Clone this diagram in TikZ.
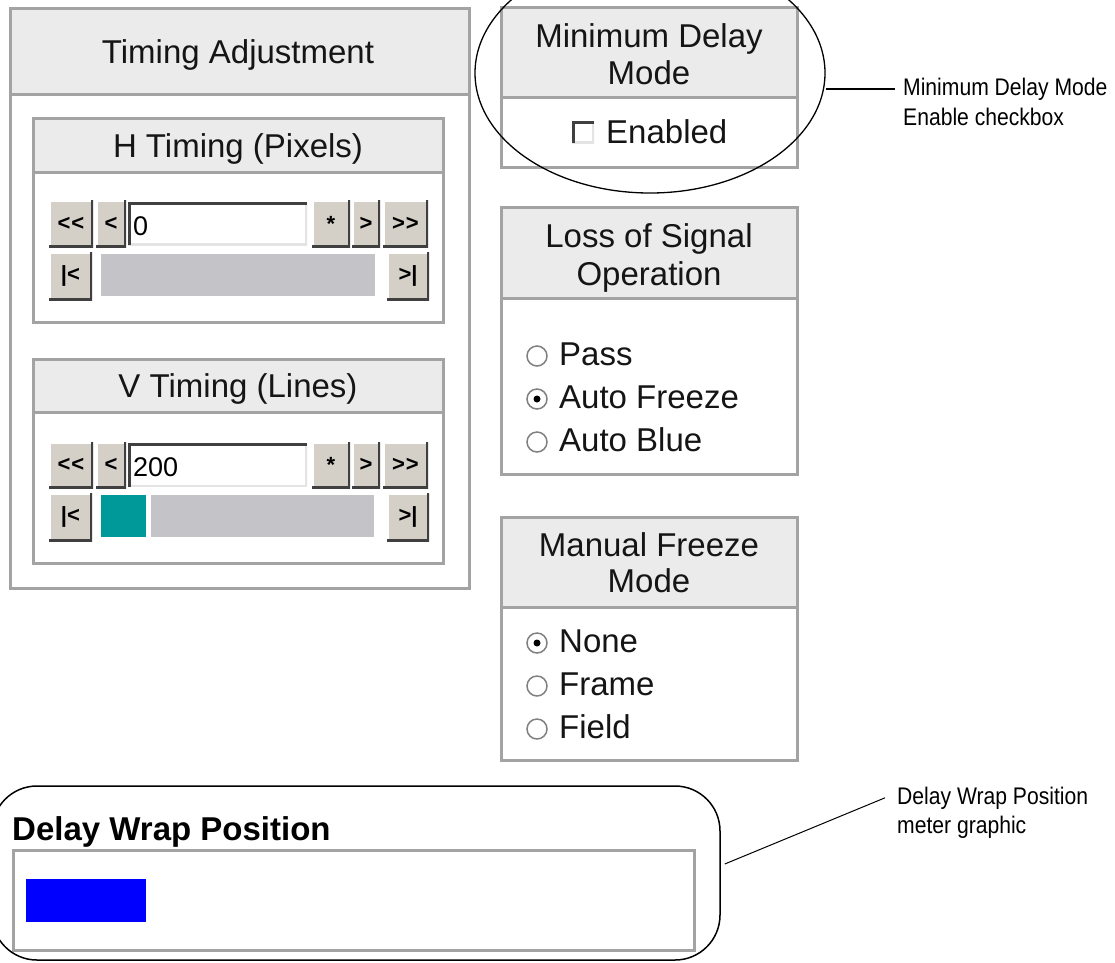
\documentclass[tikz,border=0pt]{standalone}
\usepackage{fontspec}
\setmainfont{Liberation Sans}
\newfontfamily\condfam[FakeStretch=0.88]{Liberation Sans}
\usetikzlibrary{shapes.geometric}
\definecolor{pnlgray}{HTML}{A3A3A3}
\definecolor{hdrfill}{HTML}{EBEBEB}
\definecolor{btnfill}{HTML}{D4D0C8}
\definecolor{btndark}{HTML}{404040}
\definecolor{lightedge}{HTML}{E4E4E4}
\definecolor{barfill}{HTML}{C4C3C8}
\definecolor{tealfill}{HTML}{009999}
\definecolor{meterblue}{HTML}{0000FF}
\definecolor{uitext}{HTML}{151515}
\begin{document}
\begin{tikzpicture}[x=1pt,y=-1pt,
  panel/.style={draw=pnlgray, line width=3pt, fill=white},
  hdrbox/.style={draw=pnlgray, line width=3pt, fill=hdrfill},
  uitxt/.style={font=\fontsize{33}{38}\selectfont, inner sep=0pt, anchor=base, text=uitext},
  uileft/.style={uitxt, anchor=base west},
  valtxt/.style={font=\fontsize{27}{30}\selectfont, inner sep=0pt, anchor=base west, text=black},
  btn/.style={fill=btnfill, inner sep=0pt, font=\bfseries\fontsize{22}{24}\selectfont,
    path picture={
      \draw[white, line width=4pt] (path picture bounding box.south west) -- (path picture bounding box.north west) -- (path picture bounding box.north east);
      \draw[btndark, line width=5pt] (path picture bounding box.north east) -- (path picture bounding box.south east) -- (path picture bounding box.south west);}},
  sunk/.style={fill=white, inner sep=0pt,
    path picture={
      \draw[lightedge, line width=4pt] (path picture bounding box.south west) -- (path picture bounding box.south east) -- (path picture bounding box.north east);
      \draw[btndark, line width=5pt] (path picture bounding box.south west) -- (path picture bounding box.north west) -- (path picture bounding box.north east);}},
  bar/.style={fill=barfill, inner sep=0pt},
  radio/.style={circle, draw=gray, line width=1.5pt, fill=white, minimum size=20pt, inner sep=0pt},
  radioon/.style={radio, path picture={\fill[black] (path picture bounding box.center) circle (3.5pt);}},
  ann/.style={font=\condfam\fontsize{24}{30}\selectfont, inner ysep=0pt, anchor=base west, text=black}
]
\useasboundingbox (0,0) rectangle (1115,962);
\clip (0,0) rectangle (1115,962);

% ---------------- Timing Adjustment panel
\draw[panel] (10,8) rectangle (469,588);
\draw[hdrbox] (10,8) rectangle (469,94);
\node[uitxt] (tat) at (238,63) {Timing Adjustment};

% H Timing
\draw[panel] (33,118) rectangle (443,322);
\draw[hdrbox] (33,118) rectangle (443,172);
\node[uitxt] (htt) at (238,157) {H Timing (Pixels)};
\node[btn, minimum width=44pt, minimum height=47pt] (hb1) at (71,223.5) {{<}\kern1pt{<}};
\node[btn, minimum width=30pt, minimum height=47pt] (hb2) at (111,223.5) {<};
\node[sunk, minimum width=179pt, minimum height=43pt] (hfld) at (217.5,223.5) {};
\node[valtxt] (hval) at (133,235) {0};
\node[btn, minimum width=38pt, minimum height=47pt] (hb3) at (331,223.5) {*};
\node[btn, minimum width=28pt, minimum height=47pt] (hb4) at (366,223.5) {>};
\node[btn, minimum width=45pt, minimum height=47pt] (hb5) at (405.5,223.5) {{>}\kern1pt{>}};
\node[btn, minimum width=43pt, minimum height=48pt] (hb6) at (70.5,276) {|<};
\node[bar, minimum width=274pt, minimum height=42pt] (hbar) at (238,275) {};
\node[btn, minimum width=42pt, minimum height=48pt] (hb7) at (408,276) {>|};

% V Timing
\draw[panel] (33,359) rectangle (443,563);
\draw[hdrbox] (33,359) rectangle (443,412);
\node[uitxt] (vtt) at (238,397) {V Timing (Lines)};
\node[btn, minimum width=44pt, minimum height=47pt] (vb1) at (71,465) {{<}\kern1pt{<}};
\node[btn, minimum width=30pt, minimum height=47pt] (vb2) at (111,465) {<};
\node[sunk, minimum width=179pt, minimum height=43pt] (vfld) at (217.5,465) {};
\node[valtxt] (vval) at (133,476.5) {200};
\node[btn, minimum width=38pt, minimum height=47pt] (vb3) at (331,465) {*};
\node[btn, minimum width=28pt, minimum height=47pt] (vb4) at (366,465) {>};
\node[btn, minimum width=45pt, minimum height=47pt] (vb5) at (405.5,465) {{>}\kern1pt{>}};
\node[btn, minimum width=43pt, minimum height=48pt] (vb6) at (70.5,517) {|<};
\node[fill=tealfill, inner sep=0pt, minimum width=45pt, minimum height=42pt] (vteal) at (123.5,516) {};
\node[bar, minimum width=223pt, minimum height=42pt] (vbar) at (262.5,516) {};
\node[btn, minimum width=42pt, minimum height=48pt] (vb7) at (408,517) {>|};

% ---------------- Minimum Delay Mode
\draw[panel] (501,7) rectangle (797,167);
\draw[hdrbox] (501,7) rectangle (797,97);
\node[uitxt] (mdt1) at (649,47) {Minimum Delay};
\node[uitxt] (mdt2) at (649,84) {Mode};
\node[sunk, minimum size=22pt] (cb) at (583,132) {};
\node[uileft] (cbt) at (606,143) {Enabled};

% ---------------- Loss of Signal Operation
\draw[panel] (501,207) rectangle (797,474);
\draw[hdrbox] (501,207) rectangle (797,298);
\node[uitxt] (lst1) at (649,247) {Loss of Signal};
\node[uitxt] (lst2) at (649,285) {Operation};
\node[radio] (lr1) at (537,356) {};
\node[uileft] (lt1) at (559,365) {Pass};
\node[radioon] (lr2) at (537,399) {};
\node[uileft] (lt2) at (559,408) {Auto Freeze};
\node[radio] (lr3) at (537,442) {};
\node[uileft] (lt3) at (559,451) {Auto Blue};

% ---------------- Manual Freeze Mode
\draw[panel] (501,517) rectangle (797,760);
\draw[hdrbox] (501,517) rectangle (797,607);
\node[uitxt] (mft1) at (649,556) {Manual Freeze};
\node[uitxt] (mft2) at (649,592) {Mode};
\node[radioon] (mr1) at (537,643) {};
\node[uileft] (mt1) at (559,652) {None};
\node[radio] (mr2) at (537,686) {};
\node[uileft] (mt2) at (559,695) {Frame};
\node[radio] (mr3) at (537,729) {};
\node[uileft] (mt3) at (559,738) {Field};

% ---------------- Delay Wrap Position
\node[font=\bfseries\fontsize{33}{38}\selectfont, inner sep=0pt, anchor=base west] (dwt) at (12,840) {Delay Wrap Position};
\node[draw=pnlgray, line width=3pt, fill=white, minimum width=681pt, minimum height=100pt, inner sep=0pt] (meter) at (353.5,900) {};
\node[fill=meterblue, inner sep=0pt, minimum width=120pt, minimum height=43pt] (mblue) at (86,900.5) {};
\node[draw, line width=1.5pt, rounded corners=45pt, minimum width=728pt, minimum height=174pt, inner sep=0pt] (dwf) at (356,873) {};

% ---------------- callouts
\node[draw, ellipse, line width=1.3pt, minimum width=350pt, minimum height=240pt, inner sep=0pt] (ell) at (650,73) {};
\node[ann, inner xsep=8pt] (mdl1) at (895,95) {Minimum Delay Mode};
\node[ann, inner xsep=8pt] (mdl2) at (895,125) {Enable checkbox};
\draw[line width=2pt] (ell.east |- mdl1.west) -- (mdl1.west);

\node[ann, inner xsep=12pt] (dwl1) at (885,804) {Delay Wrap Position};
\node[ann, inner xsep=12pt] (dwl2) at (885,833) {meter graphic};
\draw[line width=1pt] ([xshift=4pt,yshift=9pt]dwf.east) -- (dwl1.west);
\end{tikzpicture}
\end{document}
